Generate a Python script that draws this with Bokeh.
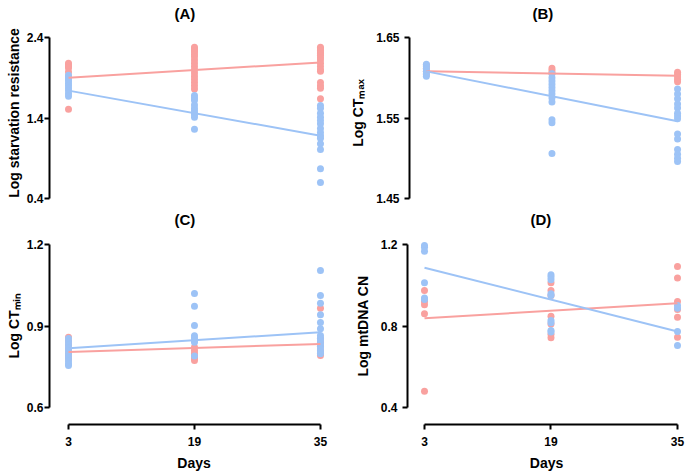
from bokeh.plotting import figure
from bokeh.layouts import column, row
from bokeh.models import FixedTicker, PrintfTickFormatter, Range1d
from bokeh.embed import file_html
from bokeh.resources import INLINE

PINK = "#F9A19F"
BLUE = "#9DC3F6"
FONT = "Liberation Sans"

days = [3, 19, 35]

# ---- Panel A: Log starvation resistance ----
a_pink = {
    3: [2.08, 2.06, 2.04, 2.02, 1.97, 1.92, 1.51],
    19: [2.28, 2.26, 2.24, 2.22, 2.19, 2.16, 2.12, 2.08, 2.04, 2.00, 1.96, 1.92, 1.88, 1.84, 1.80, 1.76],
    35: [2.28, 2.26, 2.24, 2.22, 2.20, 2.18, 2.15, 2.12, 2.08, 2.04, 2.00, 1.98, 1.84, 1.80, 1.77, 1.64],
}
a_blue = {
    3: [1.93, 1.90, 1.88, 1.86, 1.83, 1.80, 1.77, 1.74, 1.70, 1.67],
    19: [1.68, 1.65, 1.62, 1.56, 1.52, 1.49, 1.46, 1.44, 1.41, 1.26],
    35: [1.555, 1.52, 1.46, 1.41, 1.37, 1.33, 1.27, 1.22, 1.18, 1.15, 1.08, 1.01, 0.77, 0.60],
}
a_fit_pink = [1.90, 2.09]
a_fit_blue = [1.74, 1.18]

# ---- Panel B: Log CTmax ----
b_pink = {
    3: [1.616, 1.612, 1.608, 1.604],
    19: [1.612, 1.609, 1.606],
    35: [1.607, 1.604, 1.601, 1.598, 1.595],
}
b_blue = {
    3: [1.617, 1.614, 1.611, 1.608, 1.605, 1.602],
    19: [1.605, 1.600, 1.596, 1.592, 1.588, 1.584, 1.580, 1.575, 1.570, 1.548, 1.544, 1.506],
    35: [1.586, 1.580, 1.574, 1.5675, 1.5625, 1.556, 1.5525, 1.549, 1.530, 1.524, 1.511, 1.505, 1.500, 1.496],
}
b_fit_pink = [1.608, 1.6025]
b_fit_blue = [1.608, 1.546]

# ---- Panel C: Log CTmin ----
c_pink = {
    3: [0.859, 0.845, 0.830, 0.815, 0.800, 0.790, 0.779],
    19: [0.822, 0.810, 0.800, 0.790, 0.780, 0.773],
    35: [0.965, 0.854, 0.840, 0.825, 0.810, 0.800, 0.791],
}
c_blue = {
    3: [0.854, 0.842, 0.830, 0.818, 0.806, 0.794, 0.782, 0.770, 0.760, 0.755],
    19: [1.020, 0.973, 0.902, 0.864, 0.856, 0.848, 0.840, 0.790],
    35: [1.104, 1.012, 0.984, 0.941, 0.913, 0.890, 0.865, 0.855, 0.845, 0.835, 0.825, 0.815, 0.805, 0.798],
}
c_fit_pink = [0.804, 0.834]
c_fit_blue = [0.818, 0.877]

# ---- Panel D: Log mtDNA CN ----
d_pink = {
    3: [0.974, 0.920, 0.904, 0.860, 0.480],
    19: [1.012, 0.974, 0.950, 0.848, 0.810, 0.760, 0.742],
    35: [1.092, 1.036, 0.920, 0.881, 0.843, 0.745],
}
d_blue = {
    3: [1.195, 1.187, 1.167, 1.012, 0.937, 0.930],
    19: [1.051, 1.040, 1.027, 0.958, 0.950, 0.827, 0.816, 0.778, 0.770],
    35: [0.900, 0.887, 0.773, 0.704],
}
d_fit_pink = [0.838, 0.912]
d_fit_blue = [1.086, 0.773]

fit_days = [3, 35]


def flatten(groups):
    xs, ys = [], []
    for d in days:
        for v in groups[d]:
            xs.append(d)
            ys.append(v)
    return xs, ys


def make_panel(title, ylabel, pink, blue, fit_pink, fit_blue, xr, yr, yticks, yfmt,
               width, height, mb_left, mb_right, mb_top, mb_bottom, bottom_axis,
               title_offset, tick_standoff, label_standoff):
    p = figure(width=width, height=height, output_backend="svg", toolbar_location=None,
               x_range=Range1d(*xr), y_range=Range1d(*yr),
               min_border_left=mb_left, min_border_right=mb_right,
               min_border_top=mb_top, min_border_bottom=mb_bottom,
               title=title)
    p.title.text_font = FONT
    p.title.text_font_size = "15px"
    p.title.text_font_style = "bold"
    p.title.text_color = "black"
    p.title.align = "left"
    p.title.offset = title_offset
    p.title.standoff = 0
    p.outline_line_color = None
    p.xgrid.visible = False
    p.ygrid.visible = False
    p.background_fill_color = "white"
    p.border_fill_color = "white"

    px, py = flatten(pink)
    bx, by = flatten(blue)
    p.scatter(px, py, size=7, fill_color=PINK, line_color=None)
    p.scatter(bx, by, size=7, fill_color=BLUE, line_color=None)
    p.line(fit_days, fit_pink, line_color=PINK, line_width=2)
    p.line(fit_days, fit_blue, line_color=BLUE, line_width=2)

    ya = p.yaxis[0]
    ya.ticker = FixedTicker(ticks=yticks)
    ya.formatter = PrintfTickFormatter(format=yfmt)
    ya.bounds = (yticks[0], yticks[-1])
    ya.axis_label = ylabel
    ya.axis_label_text_font = FONT
    ya.axis_label_text_font_size = "14px"
    ya.axis_label_text_font_style = "bold"
    ya.axis_label_text_color = "black"
    ya.axis_label_standoff = label_standoff
    ya.major_label_text_font = FONT
    ya.major_label_text_font_size = "12px"
    ya.major_label_text_font_style = "bold"
    ya.major_label_text_color = "black"
    ya.major_label_standoff = tick_standoff
    ya.axis_line_width = 2
    ya.major_tick_line_width = 2
    ya.major_tick_out = 5
    ya.major_tick_in = 0
    ya.minor_tick_line_color = None

    xa = p.xaxis[0]
    if bottom_axis:
        xa.ticker = FixedTicker(ticks=days)
        xa.bounds = (days[0], days[-1])
        xa.axis_label = "Days"
        xa.axis_label_text_font = FONT
        xa.axis_label_text_font_size = "14px"
        xa.axis_label_text_font_style = "bold"
        xa.axis_label_text_color = "black"
        xa.axis_label_standoff = 6
        xa.major_label_text_font = FONT
        xa.major_label_text_font_size = "12px"
        xa.major_label_text_font_style = "bold"
        xa.major_label_text_color = "black"
        xa.major_label_standoff = 7
        xa.axis_line_width = 2
        xa.major_tick_line_width = 2
        xa.major_tick_out = 5
        xa.major_tick_in = 0
        xa.minor_tick_line_color = None
    else:
        xa.visible = False
    return p


pA = make_panel("(A)", "Log starvation resistance", a_pink, a_blue, a_fit_pink, a_fit_blue,
                (0.587, 37.29), (0.3255, 2.5988), [0.4, 1.4, 2.4], "%.1f",
                347, 206, 49, 9, 21, 2, False, 125, 1, 2)
pB = make_panel("(B)", "Log CTₘₐₓ", b_pink, b_blue, b_fit_pink, b_fit_blue,
                (0.850, 36.012), (1.4425, 1.67), [1.45, 1.55, 1.65], "%.2f",
                338, 206, 60, 0, 21, 2, False, 123, 5, 7)
pC = make_panel("(C)", "Log CTₘᵢₙ", c_pink, c_blue, c_fit_pink, c_fit_blue,
                (0.587, 37.29), (0.5374, 1.2626), [0.6, 0.9, 1.2], "%.1f",
                347, 267, 49, 9, 21, 49, True, 125, 1, 2)
pD = make_panel("(D)", "Log mtDNA CN", d_pink, d_blue, d_fit_pink, d_fit_blue,
                (0.850, 36.012), (0.3166, 1.2834), [0.4, 0.8, 1.2], "%.1f",
                338, 267, 60, 0, 21, 49, True, 123, 5, 7)

layout = column(row(pA, pB), row(pC, pD))
open("out.html", "w").write(file_html(layout, INLINE))
